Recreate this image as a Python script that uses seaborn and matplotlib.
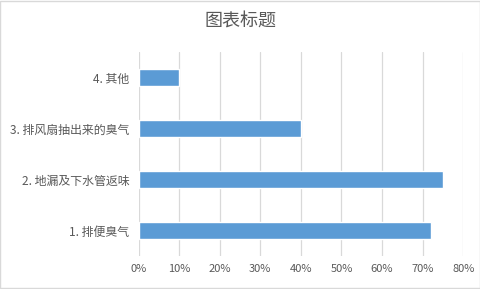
import matplotlib
matplotlib.use("Agg")
import matplotlib.pyplot as plt
import seaborn as sns
import pandas as pd
from matplotlib.ticker import PercentFormatter, MultipleLocator

categories = ["4. 其他", "3. 排风扇抽出来的臭气", "2. 地漏及下水管返味", "1. 排便臭气"]
values = [0.10, 0.40, 0.75, 0.72]
title = "图表标题"

sns.set_theme(style="white")
plt.rcParams["font.family"] = ["Noto Sans CJK SC", "DejaVu Sans"]

df = pd.DataFrame({"category": categories, "value": values})

fig = plt.figure(figsize=(4.81, 2.89), dpi=100)
ax = fig.add_axes([0.288, 0.114, 0.675, 0.706])

sns.barplot(data=df, x="value", y="category", orient="h", color="#5B9BD5",
            saturation=1, width=0.35, ax=ax, zorder=3)

ax.set_xlim(0, 0.8)
ax.set_ylim(3.5, -0.5)
ax.xaxis.set_major_locator(MultipleLocator(0.1))
ax.xaxis.set_major_formatter(PercentFormatter(1.0, decimals=0))
ax.grid(axis="x", color="#d9d9d9", linewidth=0.9, zorder=0)
ax.grid(axis="y", visible=False)
for s in ax.spines.values():
    s.set_visible(False)
ax.set_xlabel("")
ax.set_ylabel("")
ax.tick_params(axis="y", length=0, labelsize=8.6, colors="#595959", pad=6.5)
ax.tick_params(axis="x", length=0, labelsize=8.0, colors="#595959", pad=6)

fig.text(0.5, 0.927, title, ha="center", va="center", fontsize=13, color="#595959")

fig.patches.append(plt.Rectangle((0.001, 0.002), 0.997, 0.995, transform=fig.transFigure,
                                 fill=False, edgecolor="#d9d9d9", linewidth=1))

fig.savefig("out.png", dpi=100)
